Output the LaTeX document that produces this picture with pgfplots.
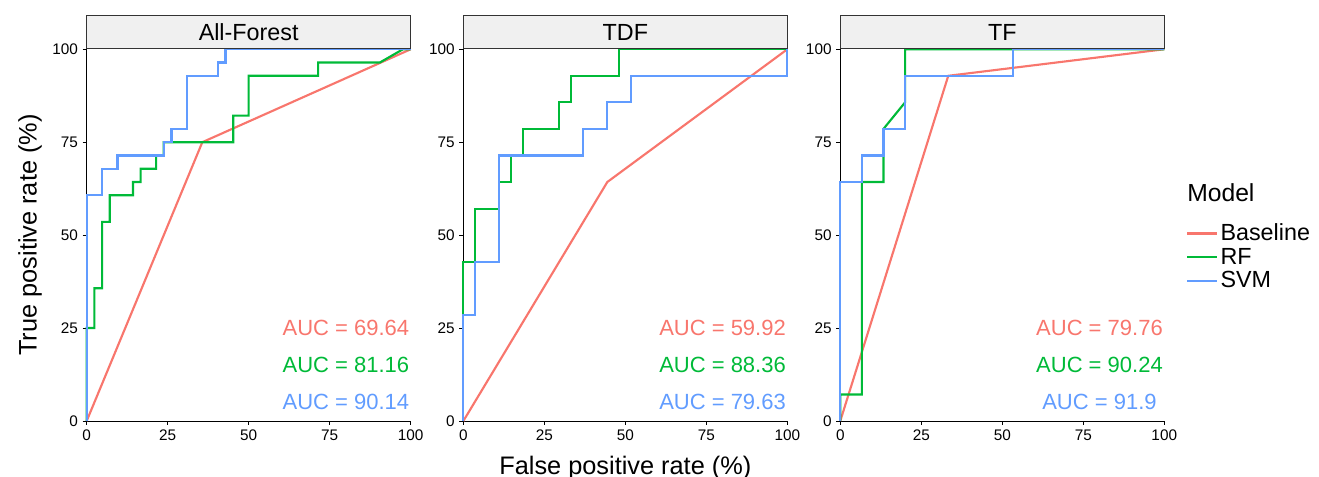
\documentclass[border=0pt]{standalone}
\usepackage{fontspec}
\setmainfont{Liberation Sans}
\usepackage{pgfplots}
\pgfplotsset{compat=1.18}
\definecolor{cbase}{HTML}{F8766D}
\definecolor{crf}{HTML}{00BA38}
\definecolor{csvm}{HTML}{619CFF}
\pgfplotsset{
  panel/.style={
    scale only axis, width=243pt, height=278.8pt, anchor=south west,
    xmin=0, xmax=100, ymin=0, ymax=100,
    axis x line*=bottom, axis y line*=left,
    xtick={0,25,50,75,100}, ytick={0,25,50,75,100},
    tick align=outside, major tick length=3pt,
    tick style={black, line width=0.6pt},
    axis line style={black, line width=0.6pt},
    ticklabel style={font=\fontsize{11.5}{12}\selectfont},
    /pgf/number format/assume math mode=true,
    clip=false,
    every axis title shift=0pt,
    title style={at={(0.5,1)}, anchor=south, draw=black!80, fill=gray!12,
      minimum width=243pt, minimum height=25pt, inner sep=0pt,
      line width=0.6pt, font=\fontsize{17.5}{18}\selectfont},
  },
  base/.style={cbase, line width=1.6pt},
  rf/.style={crf, line width=1.6pt},
  svm/.style={csvm, line width=1.6pt},
}
\newcommand{\auc}{\fontsize{16.5}{17}\selectfont}
\begin{document}
\begin{tikzpicture}
\useasboundingbox (0,0) rectangle (989.25pt,357.75pt);
% All-Forest
\begin{axis}[panel, at={(65pt,42pt)}, title={All-Forest}]
\addplot[base] coordinates {(0,0)(35.7,75)(100,100)};
\addplot[rf] coordinates {(0,0)(0,25)(2.38,25)(2.38,35.71)(4.76,35.71)(4.76,53.57)(7.14,53.57)(7.14,60.71)(14.29,60.71)(14.29,64.29)(16.67,64.29)(16.67,67.86)(21.43,67.86)(21.43,71.43)(23.81,71.43)(23.81,75)(45.24,75)(45.24,82.14)(50,82.14)(50,92.86)(71.43,92.86)(71.43,96.43)(90.48,96.43)(97.62,100)(100,100)};
\addplot[svm] coordinates {(0,0)(0,60.71)(4.76,60.71)(4.76,67.86)(9.52,67.86)(9.52,71.43)(23.81,71.43)(23.81,75)(26.19,75)(26.19,78.57)(30.95,78.57)(30.95,92.86)(40.48,92.86)(40.48,96.43)(42.86,96.43)(42.86,100)(100,100)};
\node[text=cbase, font=\auc] at (axis cs:80,25) {AUC = 69.64};
\node[text=crf, font=\auc] at (axis cs:80,15) {AUC = 81.16};
\node[text=csvm, font=\auc] at (axis cs:80,5) {AUC = 90.14};
\end{axis}
% TDF
\begin{axis}[panel, at={(347.5pt,42pt)}, title={TDF}]
\addplot[base] coordinates {(0,0)(44.44,64.29)(100,100)};
\addplot[rf] coordinates {(0,0)(0,42.86)(3.70,42.86)(3.70,57.14)(11.11,57.14)(11.11,64.29)(14.81,64.29)(14.81,71.43)(18.52,71.43)(18.52,78.57)(29.63,78.57)(29.63,85.71)(33.33,85.71)(33.33,92.86)(48.15,92.86)(48.15,100)(100,100)};
\addplot[svm] coordinates {(0,0)(0,28.57)(3.70,28.57)(3.70,42.86)(11.11,42.86)(11.11,71.43)(37.04,71.43)(37.04,78.57)(44.44,78.57)(44.44,85.71)(51.85,85.71)(51.85,92.86)(100,92.86)(100,100)};
\node[text=cbase, font=\auc] at (axis cs:80,25) {AUC = 59.92};
\node[text=crf, font=\auc] at (axis cs:80,15) {AUC = 88.36};
\node[text=csvm, font=\auc] at (axis cs:80,5) {AUC = 79.63};
\end{axis}
% TF
\begin{axis}[panel, at={(630.2pt,42pt)}, title={TF},
  legend style={at={(1.055,0.545)}, anchor=north west, draw=none, fill=none,
    font=\fontsize{17.5}{18}\selectfont, row sep=0pt},
  legend cell align=left,
  legend image code/.code={\draw[#1, line width=1.6pt] (0pt,0pt) -- (14pt,0pt);
    \path (0pt,0pt) -- (22pt,0pt);}]
\addplot[base] coordinates {(0,0)(33.33,92.86)(100,100)};
\addlegendentry{Baseline}
\addplot[rf] coordinates {(0,0)(0,7.14)(6.67,7.14)(6.67,64.29)(13.33,64.29)(13.33,78.57)(20,85.71)(20,100)(100,100)};
\addlegendentry{RF}
\addplot[svm] coordinates {(0,0)(0,64.29)(6.67,64.29)(6.67,71.43)(13.33,71.43)(13.33,78.57)(20,78.57)(20,92.86)(53.33,92.86)(53.33,100)(100,100)};
\addlegendentry{SVM}
\node[text=cbase, font=\auc] at (axis cs:80,25) {AUC = 79.76};
\node[text=crf, font=\auc] at (axis cs:80,15) {AUC = 90.24};
\node[text=csvm, font=\auc] at (axis cs:80,5) {AUC = 91.9};
\end{axis}
\node[anchor=west, inner sep=0pt, font=\fontsize{18.5}{19}\selectfont] at (890.25pt,213pt) {Model};
\node[rotate=90, font=\fontsize{19}{20}\selectfont] at (22.5pt,181.5pt) {True positive rate (\%)};
\node[anchor=base, inner sep=0pt, font=\fontsize{19}{20}\selectfont] at (469pt,1.9pt) {False positive rate (\%)};
\end{tikzpicture}
\end{document}
